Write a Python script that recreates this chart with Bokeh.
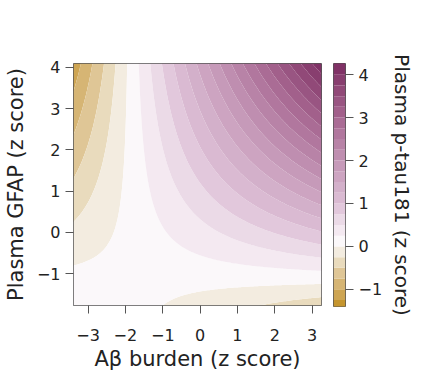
import numpy as np
from bokeh.plotting import figure
from bokeh.layouts import row
from bokeh.models import FixedTicker, Range1d, ColumnDataSource
from bokeh.embed import file_html
from bokeh.resources import INLINE

# ---- data ----
x_limits = [-3.39, 3.25]
y_limits = [-1.77, 4.09]
# predicted p-tau181 at the four corners of the grid (rows: low y, high y; cols: low x, high x)
corner_z_low_y = [0.23, -0.41]
corner_z_high_y = [-1.16, 4.20]
levels = [round(v, 2) for v in np.arange(-1.5, 4.51, 0.25)]
x_ticks = [-3, -2, -1, 0, 1, 2, 3]
y_ticks = [-1, 0, 1, 2, 3, 4]
cbar_ticks = [-1, 0, 1, 2, 3, 4]
cbar_limits = [-1.4, 4.26]
stop_values = [-1.4, -1.1, -0.7, -0.375, -0.125, 0.125, 0.5, 1.0, 2.0, 3.0, 4.3]
stop_colors = ["#c4932a", "#cfa757", "#dcc08a", "#e9dbbd", "#f3ece0", "#fbf8fa",
               "#f0e2ed", "#ddc0d6", "#c394b5", "#a66690", "#7a2a5f"]

FONT = "DejaVu Sans"
TXT = "#222222"
EDGE = "#555555"


def hex_rgb(h):
    h = h.lstrip("#")
    return [int(h[i:i + 2], 16) for i in (0, 2, 4)]


stop_rgb = np.array([hex_rgb(c) for c in stop_colors], dtype=float)


def colour_for(v):
    r = [np.interp(v, stop_values, stop_rgb[:, k]) for k in range(3)]
    return "#%02x%02x%02x" % tuple(int(round(c)) for c in r)


band_mid = [(levels[i] + levels[i + 1]) / 2 for i in range(len(levels) - 1)]
band_colors = [colour_for(m) for m in band_mid]

# surface on a grid (bilinear surface through the corner values)
xs = np.linspace(x_limits[0], x_limits[1], 160)
ys = np.linspace(y_limits[0], y_limits[1], 160)
X, Y = np.meshgrid(xs, ys)
tx = (X - x_limits[0]) / (x_limits[1] - x_limits[0])
ty = (Y - y_limits[0]) / (y_limits[1] - y_limits[0])
Z = ((1 - ty) * ((1 - tx) * corner_z_low_y[0] + tx * corner_z_low_y[1])
     + ty * ((1 - tx) * corner_z_high_y[0] + tx * corner_z_high_y[1]))


def minus(v):
    return str(v).replace("-", "\u2212")


p = figure(frame_width=248, frame_height=242,
           x_range=Range1d(*x_limits), y_range=Range1d(*y_limits),
           output_backend="svg", toolbar_location=None,
           min_border_left=68, min_border_top=63, min_border_right=2, min_border_bottom=70)
p.contour(X, Y, Z, levels, fill_color=band_colors, line_color=None)
p.grid.visible = False
p.outline_line_color = EDGE
p.outline_line_width = 1
p.background_fill_color = "white"
p.xaxis.ticker = FixedTicker(ticks=x_ticks)
p.yaxis.ticker = FixedTicker(ticks=y_ticks)
p.xaxis.major_label_overrides = {t: minus(t) for t in x_ticks}
p.yaxis.major_label_overrides = {t: minus(t) for t in y_ticks}
p.xaxis.axis_label = "A\u03b2 burden (z score)"
p.yaxis.axis_label = "Plasma GFAP (z score)"
for ax in (p.xaxis[0], p.yaxis[0]):
    ax.axis_line_color = None
    ax.major_tick_out = 8
    ax.major_tick_in = 0
    ax.major_tick_line_color = EDGE
    ax.minor_tick_line_color = None
    ax.major_label_text_font = FONT
    ax.major_label_text_font_size = "16px"
    ax.major_label_text_color = TXT
    ax.axis_label_text_font = FONT
    ax.axis_label_text_font_size = "21px"
    ax.axis_label_text_font_style = "normal"
    ax.axis_label_text_color = TXT
p.xaxis.major_label_standoff = 15
p.xaxis.axis_label_standoff = 3
p.yaxis.major_label_standoff = 5
p.yaxis.axis_label_standoff = 6

# colour bar as its own small figure
cb = figure(frame_width=12, frame_height=243,
            x_range=Range1d(0, 1), y_range=Range1d(*cbar_limits),
            output_backend="svg", toolbar_location=None,
            min_border_left=10, min_border_top=63, min_border_right=60, min_border_bottom=69,
            y_axis_location="right")
src = ColumnDataSource(dict(bottom=levels[:-1], top=levels[1:], color=band_colors))
cb.quad(left=0, right=1, bottom="bottom", top="top", fill_color="color", line_color=None, source=src)
cb.xaxis.visible = False
cb.grid.visible = False
cb.outline_line_color = EDGE
ya = cb.yaxis[0]
ya.ticker = FixedTicker(ticks=cbar_ticks)
ya.major_label_overrides = {t: minus(t) for t in cbar_ticks}
ya.axis_line_color = None
ya.major_tick_out = 8
ya.major_tick_in = 0
ya.major_tick_line_color = EDGE
ya.minor_tick_line_color = None
ya.major_label_text_font = FONT
ya.major_label_text_font_size = "16px"
ya.major_label_text_color = TXT
ya.major_label_standoff = 5
ya.axis_label = "Plasma p-tau181 (z score)"
ya.axis_label_text_font = FONT
ya.axis_label_text_font_size = "20px"
ya.axis_label_text_font_style = "normal"
ya.axis_label_text_color = TXT
ya.axis_label_standoff = 5

layout = row(p, cb)
open("out.html", "w").write(file_html(layout, INLINE))
